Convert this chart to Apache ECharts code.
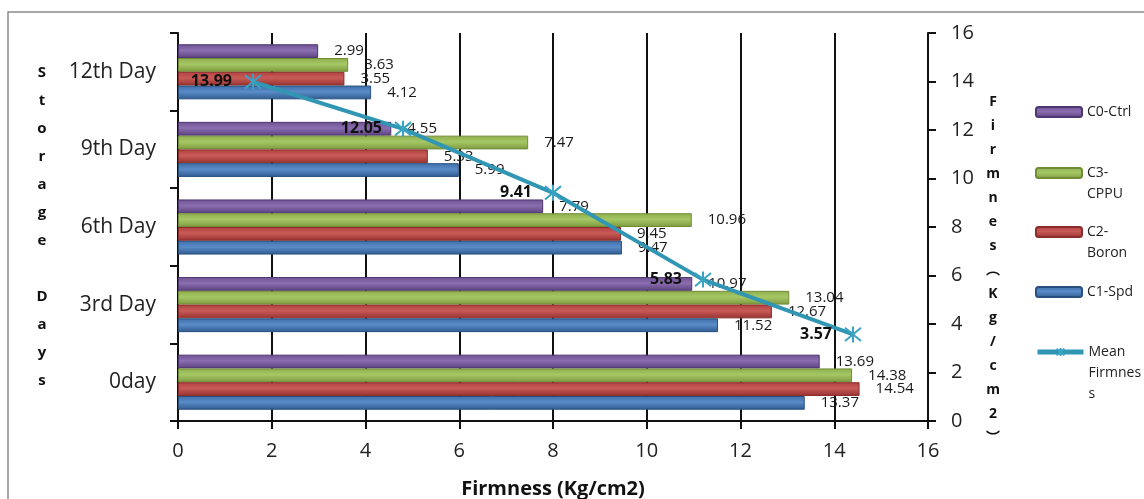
<!DOCTYPE html>
<html>
<head>
<meta charset="utf-8">
<script src="https://cdn.jsdelivr.net/npm/echarts@6/dist/echarts.min.js"></script>
<style>
  html, body { margin: 0; padding: 0; background: #fff; }
  #chart { width: 1144px; height: 499px; }
</style>
</head>
<body>
<div id="chart"></div>
<script>
// Firmness by storage day, four treatments plus mean firmness line.
var days = ['0day', '3rd Day', '6th Day', '9th Day', '12th Day'];
var c0Ctrl = [13.69, 10.97, 7.79, 4.55, 2.99];
var c3Cppu = [14.38, 13.04, 10.96, 7.47, 3.63];
var c2Boron = [14.54, 12.67, 9.45, 5.33, 3.55];
var c1Spd = [13.37, 11.52, 9.47, 5.99, 4.12];
var meanFirmness = [13.99, 12.05, 9.41, 5.83, 3.57];

var FONT = 'Open Sans';
var chart = echarts.init(document.getElementById('chart'));

// Excel-like shaded bar: darker edges, lighter middle
function shade(top, mid, bottom) {
  return new echarts.graphic.LinearGradient(0, 0, 0, 1, [
    { offset: 0, color: top },
    { offset: 0.45, color: mid },
    { offset: 1, color: bottom }
  ]);
}

// legend text is centred on the icon, so blank lines in front keep
// the first line level with the icon
var legendText = {
  'C0-Ctrl': 'C0-Ctrl',
  'C3-CPPU': '\nC3-\nCPPU',
  'C2-Boron': '\nC2-\nBoron',
  'C1-Spd': 'C1-Spd',
  'Mean Firmness': '\n\nMean\nFirmnes\ns'
};

function legendItem(name, top) {
  return {
    data: [name],
    orient: 'vertical',
    left: 1035,
    top: top,
    padding: 0,
    itemWidth: 46,
    itemHeight: 10,
    selectedMode: false,
    formatter: function (n) { return legendText[n]; },
    lineStyle: { width: 5 },
    textStyle: { fontFamily: FONT, fontSize: 14, color: '#222', lineHeight: 21 }
  };
}

function barSeries(name, data, fill, border) {
  return {
    name: name,
    type: 'bar',
    data: data,
    barGap: '0%',
    barCategoryGap: '29%',
    itemStyle: { color: fill, borderColor: border, borderWidth: 1 },
    label: {
      show: true, position: 'right', distance: 16,
      fontFamily: FONT, fontSize: 15, color: '#1a1a1a'
    },
    z: 2
  };
}

var star = 'path://M0,0L10,10M10,0L0,10M5,-1L5,11';

chart.setOption({
  animation: false,
  backgroundColor: '#fff',
  grid: { left: 178, right: 216, top: 33, bottom: 78, outerBoundsMode: 'none' },
  legend: [
    legendItem('C0-Ctrl', 101.5),
    legendItem('C3-CPPU', 141.5),
    legendItem('C2-Boron', 200.5),
    legendItem('C1-Spd', 281.5),
    legendItem('Mean Firmness', 299.5)
  ],
  xAxis: [{
    type: 'value',
    min: 0, max: 16, interval: 2,
    name: 'Firmness (Kg/cm2)',
    nameLocation: 'middle',
    nameGap: 58,
    nameTextStyle: { fontFamily: FONT, fontSize: 20, fontWeight: 'bold', color: '#111' },
    axisLine: { show: true, lineStyle: { color: '#111', width: 2 } },
    axisTick: { show: true, length: 8, lineStyle: { color: '#111', width: 2 } },
    axisLabel: { margin: 20, fontFamily: FONT, fontSize: 20, color: '#222' },
    splitLine: { show: true, lineStyle: { color: '#111', width: 2 } }
  }, {
    type: 'category',
    data: days,
    show: false,
    boundaryGap: true
  }],
  yAxis: [{
    type: 'category',
    data: days,
    axisLine: { show: true, lineStyle: { color: '#111', width: 2 } },
    axisTick: { show: true, length: 8, lineStyle: { color: '#111', width: 2 } },
    axisLabel: { margin: 22, padding: [8, 0, 0, 0], fontFamily: FONT, fontSize: 21, color: '#222' }
  }, {
    type: 'value',
    position: 'right',
    min: 0, max: 16, interval: 2,
    axisLine: { show: true, lineStyle: { color: '#111', width: 2 } },
    axisTick: { show: true, length: 8, lineStyle: { color: '#111', width: 2 } },
    axisLabel: { margin: 23, fontFamily: FONT, fontSize: 20, color: '#222' },
    splitLine: { show: false }
  }],
  graphic: [
    {
      type: 'rect', silent: true, z: -1,
      shape: { x: 8, y: 12, width: 1160, height: 520 },
      style: { fill: null, stroke: '#8a8a8a', lineWidth: 1.5 }
    },
    {
      type: 'text', x: 42, y: 227,
      style: {
        text: 'S\nt\no\nr\na\ng\ne\n\nD\na\ny\ns',
        font: 'bold 15px "Open Sans"', lineHeight: 28, fill: '#111',
        textAlign: 'center', textVerticalAlign: 'middle'
      }
    },
    {
      type: 'text', x: 993, y: 270,
      style: {
        text: 'F\ni\nr\nm\nn\ne\ns\n\uFE35\nK\ng\n/\nc\nm\n2\n\uFE36',
        font: 'bold 14px "Open Sans", "Noto Sans CJK SC"', lineHeight: 24, fill: '#111',
        textAlign: 'center', textVerticalAlign: 'middle'
      }
    }
  ],
  series: [
    barSeries('C0-Ctrl', c0Ctrl, shade('#6e5293', '#8a6eb0', '#5c417f'), '#4e3670'),
    barSeries('C3-CPPU', c3Cppu, shade('#8eae4c', '#a6c765', '#7d9a3e'), '#718c37'),
    barSeries('C2-Boron', c2Boron, shade('#b0413e', '#c85a57', '#96322f'), '#8a2d2a'),
    barSeries('C1-Spd', c1Spd, shade('#3f6ea8', '#5a8cc8', '#2f5a8e'), '#28507f'),
    {
      name: 'Mean Firmness',
      type: 'line',
      xAxisIndex: 1,
      yAxisIndex: 1,
      data: meanFirmness,
      symbol: star,
      symbolSize: 16,
      lineStyle: { color: '#3196b4', width: 4 },
      itemStyle: { color: '#3aa3c4', borderColor: '#3aa3c4', borderWidth: 2 },
      label: {
        show: true, position: 'left', distance: 12,
        fontFamily: FONT, fontSize: 16, fontWeight: 'bold', color: '#111'
      },
      z: 5
    }
  ]
});
</script>
</body>
</html>
